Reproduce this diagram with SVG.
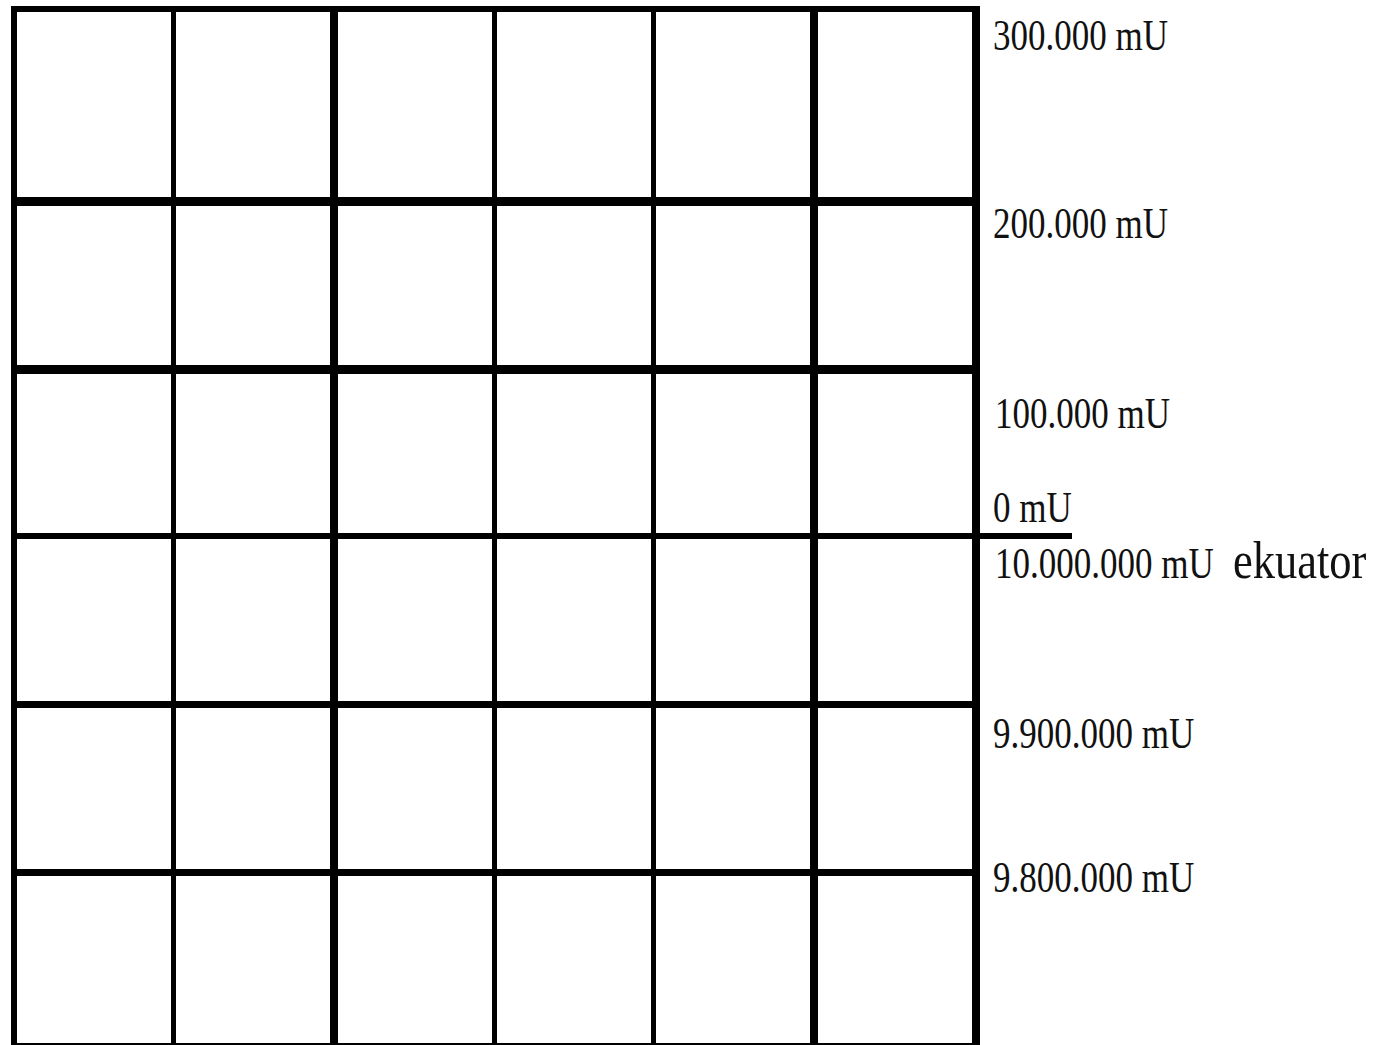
<svg xmlns="http://www.w3.org/2000/svg" width="1385" height="1045" viewBox="0 0 1385 1045">
<style>
.lbl{font-family:"Liberation Serif","Times New Roman",serif;font-size:35px;fill:#111}
.big{font-family:"Liberation Serif","Times New Roman",serif;font-size:44.5px;fill:#111}
</style>
<rect width="1385" height="1045" fill="#fff"/>
<g id="grid" fill="#000">
<rect x="11" y="6" width="6" height="1039"/>
<rect x="171" y="6" width="5" height="1039"/>
<rect x="330" y="6" width="8" height="1039"/>
<rect x="492" y="6" width="5" height="1039"/>
<rect x="651" y="6" width="5" height="1039"/>
<rect x="810" y="6" width="8" height="1039"/>
<rect x="972" y="6" width="8" height="1039"/>
<rect x="11" y="6" width="969" height="6"/>
<rect x="11" y="197" width="969" height="9"/>
<rect x="11" y="365" width="969" height="9"/>
<rect x="11" y="533" width="1061" height="6"/>
<rect x="11" y="701" width="969" height="7"/>
<rect x="11" y="869" width="969" height="7"/>
<rect x="11" y="1043" width="969" height="2"/>
</g>
<g id="labels">
<text class="lbl" transform="translate(993,50) scale(1,1.257)">300.000 mU</text>
<text class="lbl" transform="translate(993,238) scale(1,1.257)">200.000 mU</text>
<text class="lbl" transform="translate(995,428) scale(1,1.257)">100.000 mU</text>
<text class="lbl" transform="translate(993,522) scale(1,1.257)">0 mU</text>
<text class="lbl" transform="translate(995,578) scale(1,1.257)">10.000.000 mU</text>
<text class="big" transform="translate(1233,578) scale(1,1.19)">ekuator</text>
<text class="lbl" transform="translate(993,748) scale(1,1.257)">9.900.000 mU</text>
<text class="lbl" transform="translate(993,892) scale(1,1.257)">9.800.000 mU</text>
</g>
</svg>
